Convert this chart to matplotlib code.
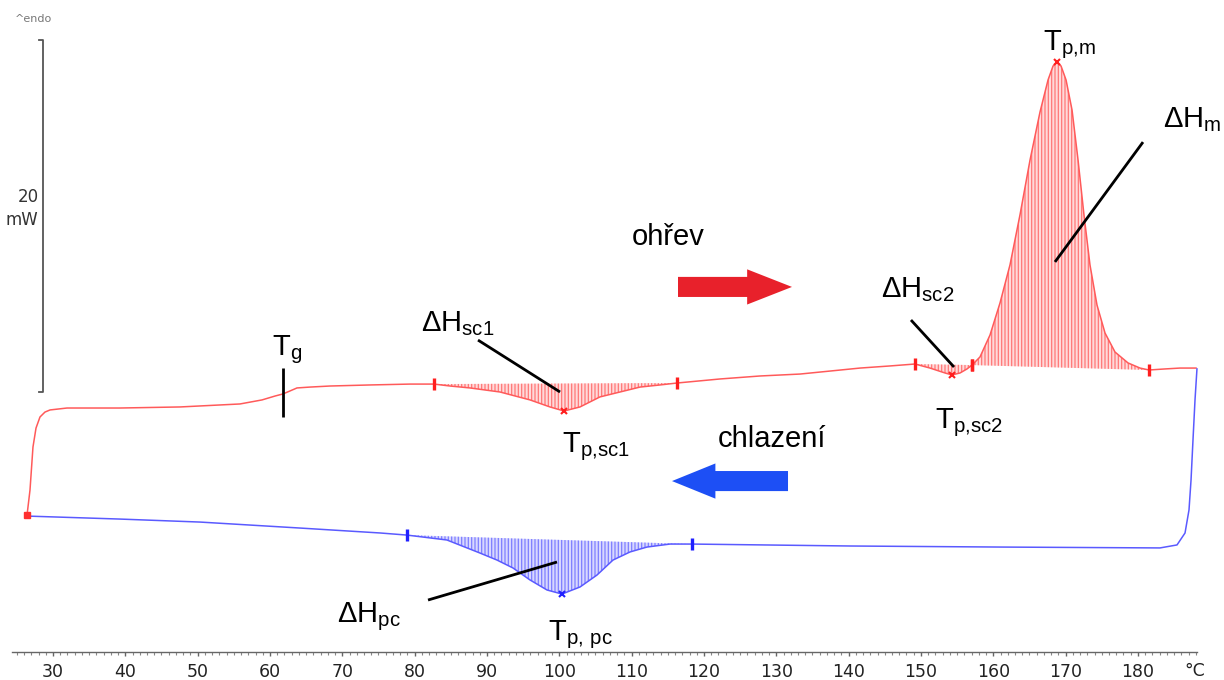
import numpy as np
import matplotlib
matplotlib.use("Agg")
import matplotlib.pyplot as plt
from matplotlib.patches import FancyArrow

plt.rcParams['font.family'] = ['Liberation Sans', 'DejaVu Sans']
plt.rcParams['mathtext.fontset'] = 'custom'
plt.rcParams['mathtext.rm'] = 'Liberation Sans'
plt.rcParams['hatch.linewidth'] = 0.9

# ---------------- data (temperature in °C, heat flow in mW) ----------------
heat_T = [26.41, 26.82, 27.23, 27.65, 28.20, 28.89, 29.59, 31.94, 39.26, 47.56,
          55.85, 58.90, 60.69, 61.80, 62.77, 63.73, 65.53, 68.30, 73.83, 79.36,
          82.68, 84.89, 87.65, 91.80, 95.95, 98.71, 100.65, 102.86, 105.62, 108.39,
          111.16, 113.92, 116.27, 122.21, 127.75, 133.28, 141.57, 145.72, 149.18,
          151.25, 153.33, 154.29, 155.40, 156.37, 157.06, 158.16, 159.55, 160.93,
          162.31, 163.69, 165.08, 166.46, 167.57, 168.26, 168.81, 169.37, 170.06,
          170.89, 171.72, 172.54, 173.37, 174.34, 175.45, 176.83, 178.63, 180.29,
          181.53, 183.74, 185.81, 188.03]
heat_Q = [-6.99, -5.57, -3.13, -2.05, -1.42, -1.14, -1.02, -0.91, -0.91, -0.85,
          -0.68, -0.45, -0.23, -0.11, 0.06, 0.23, 0.28, 0.34, 0.40, 0.45,
          0.45, 0.34, 0.23, 0.00, -0.45, -0.85, -1.08, -0.85, -0.28, 0.00,
          0.28, 0.40, 0.51, 0.74, 0.91, 1.02, 1.36, 1.48, 1.59,
          1.36, 1.08, 0.97, 1.08, 1.31, 1.53, 1.99, 3.24, 5.06,
          7.22, 10.06, 13.18, 15.91, 17.73, 18.52, 18.75, 18.52, 17.73,
          16.02, 13.18, 10.06, 7.22, 4.94, 3.35, 2.27, 1.65, 1.36,
          1.25, 1.31, 1.36, 1.36]

cool_T = [188.16, 187.89, 187.61, 187.34, 187.06, 186.51, 185.40, 183.05, 160.93,
          140.19, 118.34, 115.30, 112.12, 109.77, 107.42, 105.21, 102.86, 100.37,
          98.30, 95.95, 93.60, 91.39, 89.03, 84.47, 78.94, 75.21, 64.15, 50.32,
          39.26, 30.97, 26.41]
cool_Q = [1.31, -0.45, -2.73, -5.00, -6.70, -8.01, -8.69, -8.86, -8.81,
          -8.75, -8.64, -8.64, -8.81, -9.09, -9.55, -10.40, -11.08, -11.48,
          -11.25, -10.68, -10.00, -9.55, -9.15, -8.41, -8.13, -8.01, -7.73, -7.39,
          -7.22, -7.11, -7.05]

# integration limits (°C) and peak temperatures
sc1_lim = (82.68, 116.27)
sc2_lim = (149.18, 157.06)
m_lim = (157.06, 181.53)
pc_lim = (78.94, 118.34)
peaks_heat = [100.65, 154.29, 168.81]
peak_cool = 100.37
Tg = 61.80

# ---------------- figure ----------------
fig = plt.figure(figsize=(12.24, 6.8), dpi=100, facecolor='white')
ax = fig.add_axes([0, 28 / 680, 1, 652 / 680])
ax.set_xlim(22.672, 191.898)
ax.set_ylim(-14.773, 22.273)

RED, REDF, REDH = '#ff5a5a', '#ffdada', '#ff7878'
BLUE, BLUEF, BLUEH = '#5a5aff', '#d8d8ff', '#7f7fff'

hT, hQ = np.array(heat_T), np.array(heat_Q)
cT, cQ = np.array(cool_T), np.array(cool_Q)


def shade(T, Q, lim, face, hatchc):
    m = (T >= lim[0] - 1e-6) & (T <= lim[1] + 1e-6)
    x, y = T[m], Q[m]
    o = np.argsort(x)
    x, y = x[o], y[o]
    base = np.interp(x, [x[0], x[-1]], [y[0], y[-1]])
    ax.fill_between(x, y, base, facecolor=face, edgecolor=hatchc, hatch='|||||', lw=0, zorder=1)
    return x, y


ax.plot(hT, hQ, color=RED, lw=1.1, zorder=3)
ax.plot(cT, cQ, color=BLUE, lw=1.1, zorder=3)

for lim in (sc1_lim, sc2_lim, m_lim):
    x, y = shade(hT, hQ, lim, REDF, REDH)
    ax.plot([x[0], x[-1]], [y[0], y[-1]], ls='none', marker='|', ms=9, mew=2.4, color='#ff1f1f', zorder=4)
x, y = shade(cT, cQ, pc_lim, BLUEF, BLUEH)
ax.plot([x[0], x[-1]], [y[0], y[-1]], ls='none', marker='|', ms=9, mew=2.4, color='#2020ff', zorder=4)

ax.plot(peaks_heat, [hQ[np.argmin(np.abs(hT - p))] for p in peaks_heat], ls='none', marker='x',
        ms=4, mew=1.5, color='#ff1f1f', zorder=4)
ax.plot([peak_cool], [cQ[np.argmin(np.abs(cT - peak_cool))]], ls='none', marker='x',
        ms=4, mew=1.5, color='#2020ff', zorder=4)
ax.plot([heat_T[0]], [heat_Q[0]], ls='none', marker='s', ms=4, color='#ff3030', zorder=4)

# annotation lines
blk = dict(color='black', lw=2, solid_capstyle='butt', zorder=5)
ax.plot([Tg, Tg], [1.36, -1.42], **blk)
ax.plot([88.76, 100.10], [2.95, 0.0], **blk)
ax.plot([148.62, 154.57], [4.09, 1.42], **blk)
ax.plot([180.70, 168.53], [14.20, 7.39], **blk)
ax.plot([81.85, 99.68], [-11.82, -9.66], **blk)

fs = 21
lab = dict(fontsize=fs, ha='left', va='baseline', color='black', zorder=6)
ax.text(60.28, 2.10, r'$\mathregular{T_{g}}$', **lab)
ax.text(80.88, 3.47, r'$\mathregular{ΔH_{sc1}}$', **lab)
ax.text(100.37, -3.41, r'$\mathregular{T_{p{,}sc1}}$', **lab)
ax.text(110.05, 8.35, 'ohřev', **lab)
ax.text(121.94, -3.13, 'chlazení', **lab)
ax.text(144.48, 5.40, r'$\mathregular{ΔH_{sc2}}$', **lab)
ax.text(151.94, -2.05, r'$\mathregular{T_{p{,}sc2}}$', **lab)
ax.text(166.87, 19.43, r'$\mathregular{T_{p{,}m}}$', **lab)
ax.text(183.46, 15.06, r'$\mathregular{ΔH_{m}}$', **lab)
ax.text(69.26, -13.07, r'$\mathregular{ΔH_{pc}}$', **lab)
ax.text(98.44, -14.09, r'$\mathregular{T_{p{,}\ pc}}$', **lab)

# arrows
ax.add_patch(FancyArrow(116.41, 5.97, 15.76, 0, width=1.14, head_width=2.0, head_length=6.2,
                        length_includes_head=True, color='#e8212b', lw=0, zorder=6))
ax.add_patch(FancyArrow(131.62, -5.06, -16.04, 0, width=1.14, head_width=2.0, head_length=6.0,
                        length_includes_head=True, color='#1d4ff5', lw=0, zorder=6))

# scale bar (20 mW)
gray = '#555555'
ax.plot([28.06, 28.62, 28.62, 28.06], [20, 20, 0, 0], color=gray, lw=1.3, clip_on=False)
ax.text(28.0, 11.07, '20', fontsize=12, family='DejaVu Sans', ha='right', va='center', color='#333333')
ax.text(28.0, 9.77, 'mW', fontsize=12, family='DejaVu Sans', ha='right', va='center', color='#333333')
ax.text(27.3, 21.2, '^endo', fontsize=8, family='DejaVu Sans', ha='center', va='center', color='#777777')

# bottom axis
for s in ('left', 'right', 'top'):
    ax.spines[s].set_visible(False)
ax.spines['bottom'].set_bounds(24.33, 188.17)
ax.spines['bottom'].set_color('#666666')
ax.spines['bottom'].set_linewidth(1.0)
ax.set_yticks([])
ax.set_xticks(np.arange(30, 181, 10))
ax.set_xticks(np.arange(25, 189, 1), minor=True)
ax.tick_params(axis='x', which='major', length=3, width=1, color='#666666', direction='out',
               labelsize=12.5, pad=5)
ax.tick_params(axis='x', which='minor', length=2.2, width=0.8, color='#888888', direction='out')
for t in ax.get_xticklabels():
    t.set_family('DejaVu Sans')
    t.set_color('#222222')
ax.text(187.89, -15.85, '°C', fontsize=12.5, family='DejaVu Sans', ha='center', va='center',
        color='#222222', clip_on=False)

fig.savefig('out.png', dpi=100, facecolor='white')
